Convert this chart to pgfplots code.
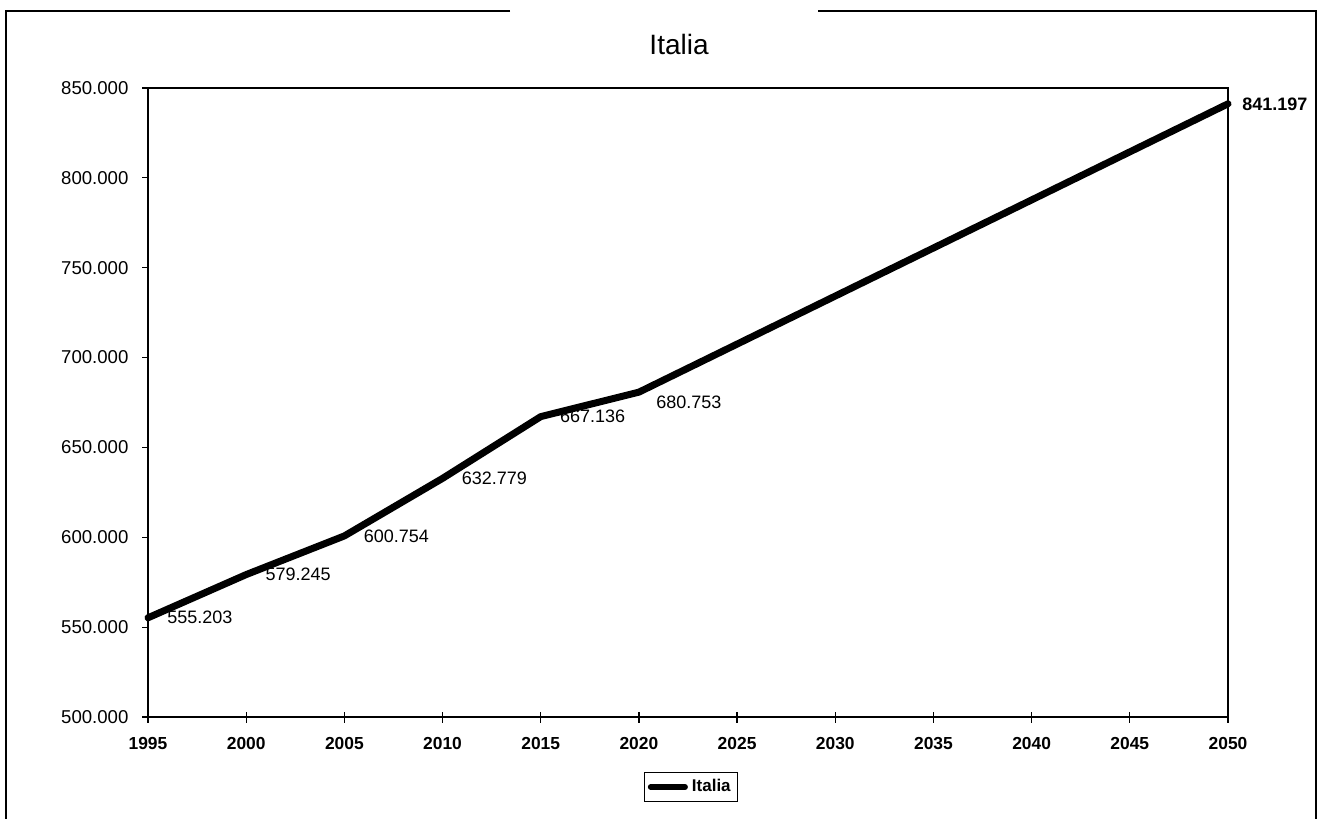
\documentclass[border=0pt]{standalone}
\usepackage{fontspec}
\setmainfont{Liberation Sans}
\usepackage{pgfplots}
\pgfplotsset{compat=1.18}
\begin{document}
\begin{tikzpicture}
\useasboundingbox (-74pt,-51pt) rectangle (586.5pt,358.5pt);
% outer chart frame
\draw[line width=1pt] (181pt,353pt) -- (-71pt,353pt) -- (-71pt,-51pt);
\draw[line width=1pt] (335pt,353pt) -- (584pt,353pt) -- (584pt,-51pt);
\begin{axis}[
  at={(0pt,0pt)}, anchor=south west,
  scale only axis, width=540pt, height=314.5pt,
  xmin=1995, xmax=2050, ymin=500000, ymax=850000,
  xtick={1995,2000,...,2050},
  ytick={500000,550000,...,850000},
  scaled y ticks=false,
  xtick pos=left, ytick pos=left,
  tick align=center,
  x tick label style={/pgf/number format/1000 sep={}, font=\fontsize{8.7}{10}\selectfont\bfseries, yshift=-4pt},
  y tick label style={/pgf/number format/.cd, fixed, precision=0, 1000 sep={.}, /tikz/.cd, font=\fontsize{9.3}{10}\selectfont, xshift=-3.5pt},
  /pgf/number format/assume math mode=true,
  major tick length=5.5pt,
  x tick style={black, line width=0.6pt},
  y tick style={black, line width=0.6pt, /pgfplots/major tick length=3pt, xshift=-1.5pt},
  axis line style={line width=0.8pt},
  title={Italia},
  title style={at={(0.4917,1)}, anchor=center, yshift=16pt, font=\fontsize{14}{16}\selectfont},
  legend style={at={(0.503,0)}, anchor=center, yshift=-35pt, draw=black, line width=0.6pt,
    font=\fontsize{8.5}{10}\selectfont\bfseries, inner sep=1.5pt,
    legend cell align=left},
  legend image code/.code={\draw[line width=3pt] (0cm,0cm) -- (0.6cm,0cm);},
  clip=false,
  nodes near coords={\pgfmathprintnumber[fixed,precision=0,1000 sep={.}]{\pgfplotspointmeta}},
  point meta=y,
]
\addplot[black, line width=3.5pt, line join=round, line cap=round, nodes near coords={}] coordinates {
  (1995,555203) (2000,579245) (2005,600754) (2010,632779) (2015,667136) (2020,680753) (2050,841197)
};
\addlegendentry{Italia}
\addplot[draw=none, forget plot,
  every node near coord/.style={anchor=west, inner sep=0pt, xshift=9.5pt, font=\fontsize{9}{10}\selectfont, black},
] coordinates {
  (1995,555203) (2000,579245) (2005,600754) (2010,632779) (2015,667136)
};
\addplot[draw=none, forget plot,
  every node near coord/.style={anchor=west, inner sep=0pt, xshift=8.5pt, yshift=-5pt, font=\fontsize{9}{10}\selectfont, black},
] coordinates {
  (2020,680753)
};
\addplot[draw=none, forget plot,
  every node near coord/.style={anchor=west, inner sep=0pt, xshift=7pt, font=\fontsize{9}{10}\selectfont\bfseries, black},
] coordinates {
  (2050,841197)
};
\end{axis}
\end{tikzpicture}
\end{document}
